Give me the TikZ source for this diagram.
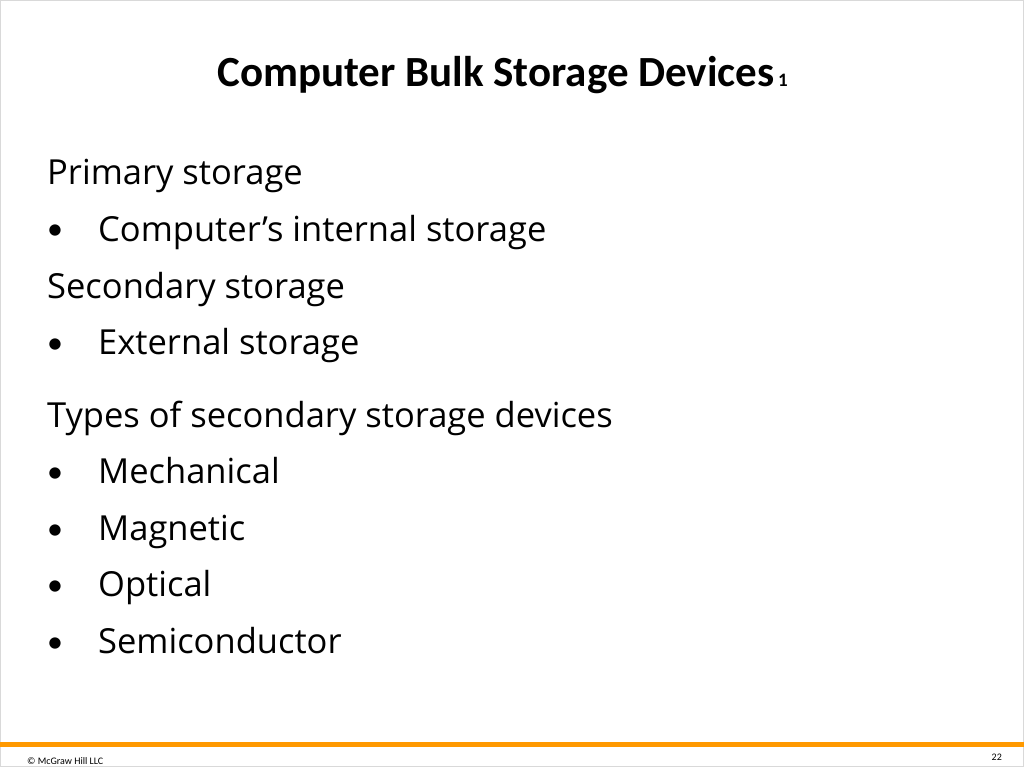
\documentclass[tikz,border=0pt]{standalone}
\usepackage{fontspec}
\setmainfont{Carlito}
\newfontfamily\bodyfont{Open Sans}
\begin{document}
\begin{tikzpicture}[x=1pt,y=-1pt]
\tikzset{body/.style={anchor=base west,inner sep=0,font=\bodyfont\fontsize{34.5}{40}\selectfont},
bul/.style={anchor=base west,inner sep=0,font=\fontsize{32}{38}\selectfont}}
\useasboundingbox (0,0) rectangle (1024,767);
\fill[white] (0,0) rectangle (1024,767);
\draw[gray!30] (0.5,0.5) rectangle (1023.5,766.5);
\node[anchor=base,inner sep=0,font=\fontsize{43}{50}\selectfont\bfseries] (title) at (496,87) {Computer Bulk Storage Devices};
\node[anchor=base west,inner sep=0,font=\fontsize{19}{22}\selectfont\bfseries] (sup) at (title.base east) {\,1};
\node[body] (p) at (47,185) {Primary storage};
\node[bul] (b1) at (47,240) {•};
\node[body] (t1) at (98,241) {Computer’s internal storage};
\node[body] (s) at (47,298) {Secondary storage};
\node[bul] (b2) at (47,353) {•};
\node[body] (t2) at (98,354) {External storage};
\node[body] (ty) at (47,427) {Types of secondary storage devices};
\foreach \y/\t [count=\i] in {482/Mechanical,539/Magnetic,595/Optical,652/Semiconductor}{
\node[bul] (bb\i) at (47,\y) {•};
\node[body] (tt\i) at (98,\y+1) {\t};}
\fill[orange!80!yellow] (0,742) rectangle (1024,747);
\node[anchor=base west,inner sep=0,font=\fontsize{10}{12}\selectfont] (c) at (27,764) {© McGraw Hill LLC};
\node[anchor=base east,inner sep=0,font=\fontsize{10}{12}\selectfont] (n) at (1002,760) {22};
\end{tikzpicture}
\end{document}
